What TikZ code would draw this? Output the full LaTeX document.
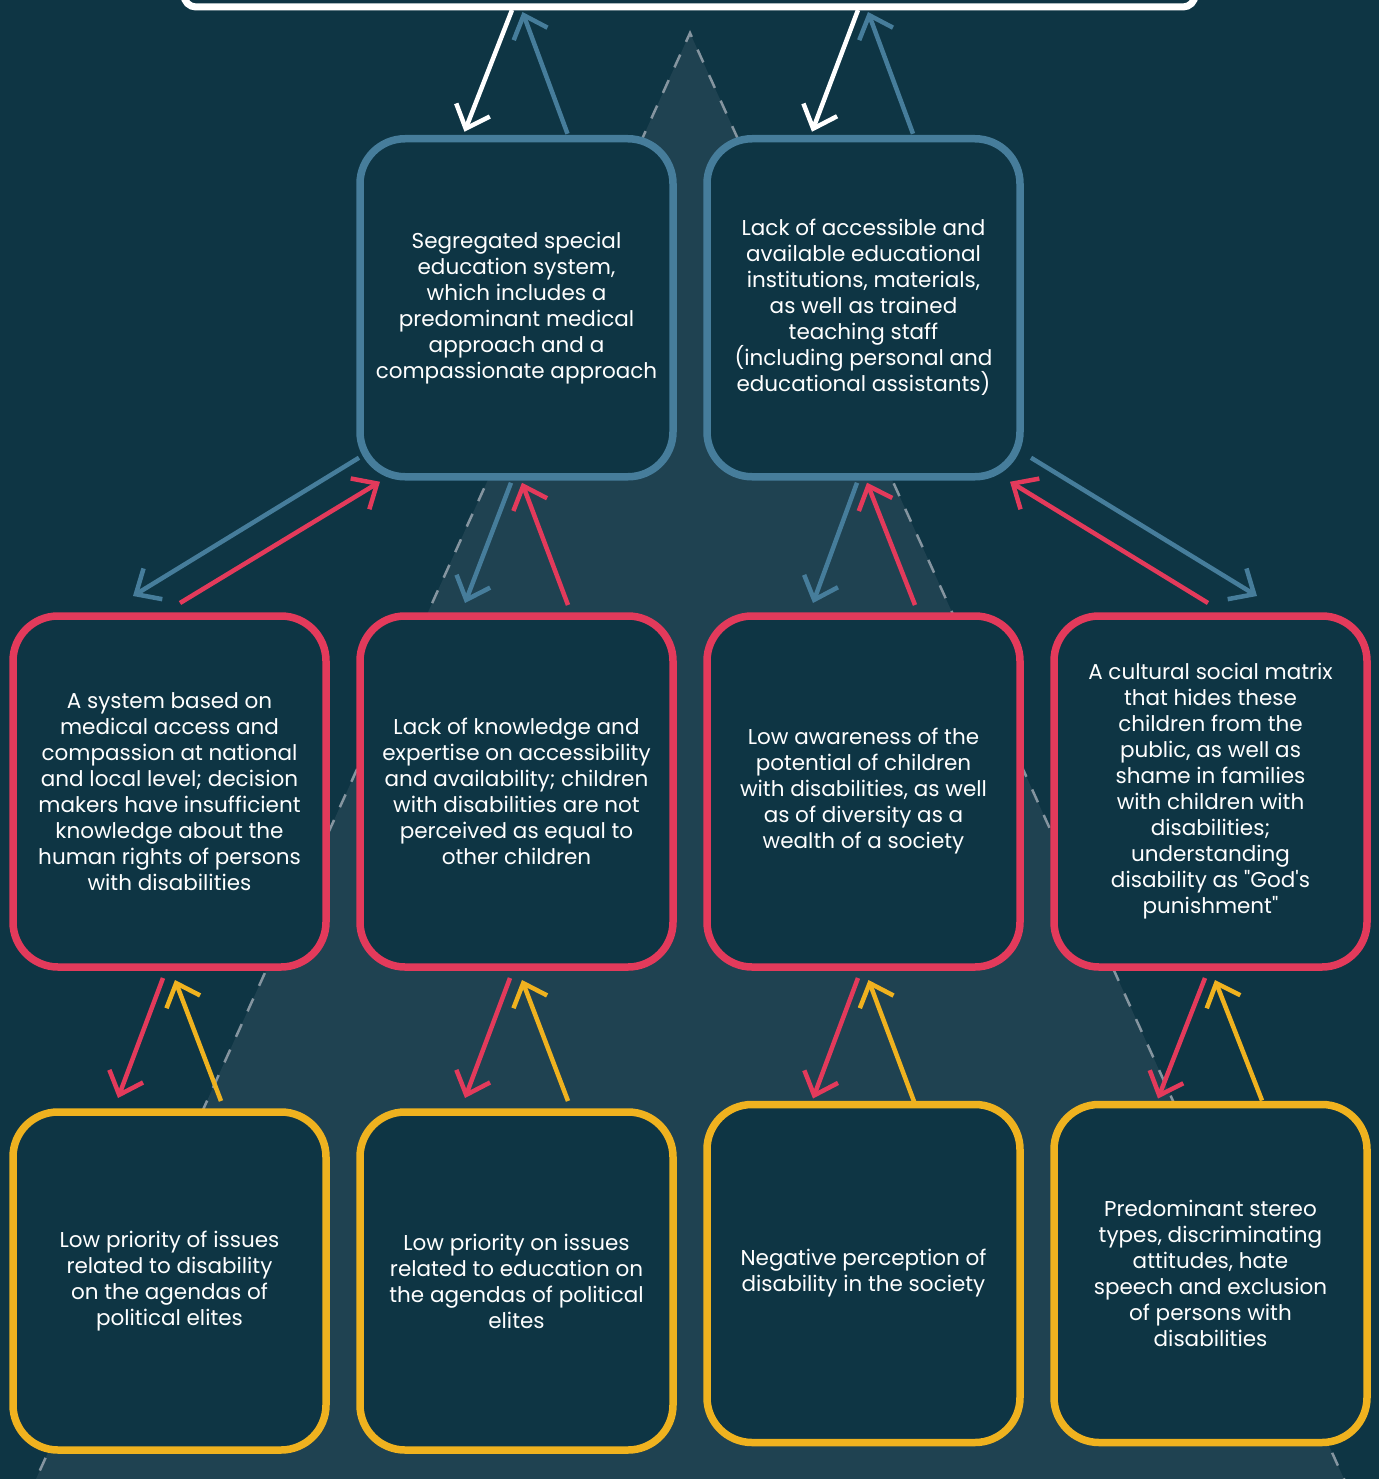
\documentclass[tikz,border=0pt]{standalone}
\usepackage{fontspec}
\setmainfont{Poppins}[Ligatures=TeXOff]
\usetikzlibrary{arrows.meta,calc}
\definecolor{bgc}{HTML}{0E3544}
\definecolor{tric}{HTML}{1F4251}
\definecolor{dashc}{HTML}{8595A0}
\definecolor{bluec}{HTML}{467D9B}
\definecolor{redc}{HTML}{E33A5B}
\definecolor{yelc}{HTML}{EFB21F}
\tikzset{
  box/.style={draw, rounded corners=45pt, line width=7.5pt, fill=bgc,
    minimum width=313pt, minimum height=338pt, align=center, text=white,
    inner sep=0pt, outer sep=0pt, font=\fontsize{21.5}{26}\selectfont},
  bluebox/.style={box, draw=bluec},
  redbox/.style={box, draw=redc, minimum height=351pt},
  yelbox/.style={box, draw=yelc},
  arr/.style={line width=4.5pt, -{Straight Barb[sharp, length=20pt, width=36pt]}},
}
\begin{document}
\begin{tikzpicture}[x=1pt,y=-1pt]
\useasboundingbox (0,0) rectangle (1379,1479);
\clip (0,0) rectangle (1379,1479);
\fill[bgc] (0,0) rectangle (1379,1479);
% background triangle
\coordinate (apex) at (690,33);
\coordinate (bl) at (36,1479);
\coordinate (br) at (1344,1479);
\fill[tric] (apex) -- ($(apex)!1.1!(bl)$) -- ($(apex)!1.1!(br)$) -- cycle;
\draw[dashc, line width=2.5pt, dash pattern=on 14pt off 14pt] ($(apex)!1.1!(bl)$) -- (apex) -- ($(apex)!1.1!(br)$);
% top white box
\node[draw=white, line width=7pt, rounded corners=12pt, minimum width=1011pt, minimum height=100pt, inner sep=0pt, outer sep=0pt] (top) at (689.5,-43) {};
% row 1
\node[bluebox] (A) at (516.5,307.75) {Segregated special\\education system,\\which includes a\\predominant medical\\approach and a\\compassionate approach};
\node[bluebox] (B) at (863.5,307.75) {Lack of accessible and\\available educational\\institutions, materials,\\as well as trained\\teaching staff\\(including personal and\\educational assistants)};
% row 2
\node[redbox] (C1) at (169.5,791.5) {A system based on\\medical access and\\compassion at national\\and local level; decision\\makers have insufficient\\knowledge about the\\human rights of persons\\with disabilities};
\node[redbox] (C2) at (516.5,791.5) {Lack of knowledge and\\expertise on accessibility\\and availability; children\\with disabilities are not\\perceived as equal to\\other children};
\node[redbox] (C3) at (863.5,791.5) {Low awareness of the\\potential of children\\with disabilities, as well\\as of diversity as a\\wealth of a society};
\node[redbox] (C4) at (1210.5,791.5) {A cultural social matrix\\that hides these\\children from the\\public, as well as\\shame in families\\with children with\\disabilities;\\understanding\\disability as "God's\\punishment"};
% row 3
\node[yelbox] (D1) at (169.5,1281) {Low priority of issues\\related to disability\\on the agendas of\\political elites};
\node[yelbox] (D2) at (516.5,1281) {Low priority on issues\\related to education on\\the agendas of political\\elites};
\node[yelbox] (D3) at (863.5,1273.5) {Negative perception of\\disability in the society};
\node[yelbox] (D4) at (1210.5,1273.5) {Predominant stereo\\types, discriminating\\attitudes, hate\\speech and exclusion\\of persons with\\disabilities};
% helper coordinates on the top box
\coordinate (tA) at (top.south -| A.north);
\coordinate (tB) at (top.south -| B.north);
% top <-> row 1
\draw[arr, white] ($(tA)+(-4.5,3)$) -- ($(A.north)+(-52,-7)$);
\draw[arr, bluec] ($(A.north)+(51,-5)$) -- ($(tA)+(6,5)$);
\draw[arr, white] ($(tB)+(-5.5,3)$) -- ($(B.north)+(-51.5,-7)$);
\draw[arr, bluec] ($(B.north)+(49.5,-5)$) -- ($(tB)+(4.5,5)$);
% row 1 <-> row 2
\draw[arr, bluec] ($(A.south west)+(-1,-19)$) -- ($(C1.north)+(-36.5,-20)$);
\draw[arr, redc] ($(C1.north)+(10.5,-13)$) -- ($(A.south west)+(20,5)$);
\draw[arr, bluec] ($(A.south)+(-5.5,6)$) -- ($(C2.north)+(-51.5,-13)$);
\draw[arr, redc] ($(C2.north)+(51.5,-11)$) -- ($(A.south)+(5.5,6)$);
\draw[arr, bluec] ($(B.south)+(-6.5,6)$) -- ($(C3.north)+(-50.5,-13)$);
\draw[arr, redc] ($(C3.north)+(51.5,-11)$) -- ($(B.south)+(3.5,6)$);
\draw[arr, bluec] ($(B.south east)+(11,-19)$) -- ($(C4.north)+(46.5,-20)$);
\draw[arr, redc] ($(C4.north)+(-2.5,-13)$) -- ($(B.south east)+(-10,5)$);
% row 2 <-> row 3
\draw[arr, redc] ($(C1.south)+(-6.5,11)$) -- ($(D1.north)+(-51.5,-14)$);
\draw[arr, yelc] ($(D1.north)+(51.5,-11)$) -- ($(C1.south)+(5.5,13)$);
\draw[arr, redc] ($(C2.south)+(-6.5,11)$) -- ($(D2.north)+(-51.5,-14)$);
\draw[arr, yelc] ($(D2.north)+(51.5,-11)$) -- ($(C2.south)+(5.5,13)$);
\draw[arr, redc] ($(C3.south)+(-5.5,11)$) -- ($(D3.north)+(-50.5,-6)$);
\draw[arr, yelc] ($(D3.north)+(50.5,-3)$) -- ($(C3.south)+(5,13)$);
\draw[arr, redc] ($(C4.south)+(-5.5,11)$) -- ($(D4.north)+(-52.5,-6)$);
\draw[arr, yelc] ($(D4.north)+(51.5,-4)$) -- ($(C4.south)+(4.5,13)$);
\end{tikzpicture}
\end{document}
